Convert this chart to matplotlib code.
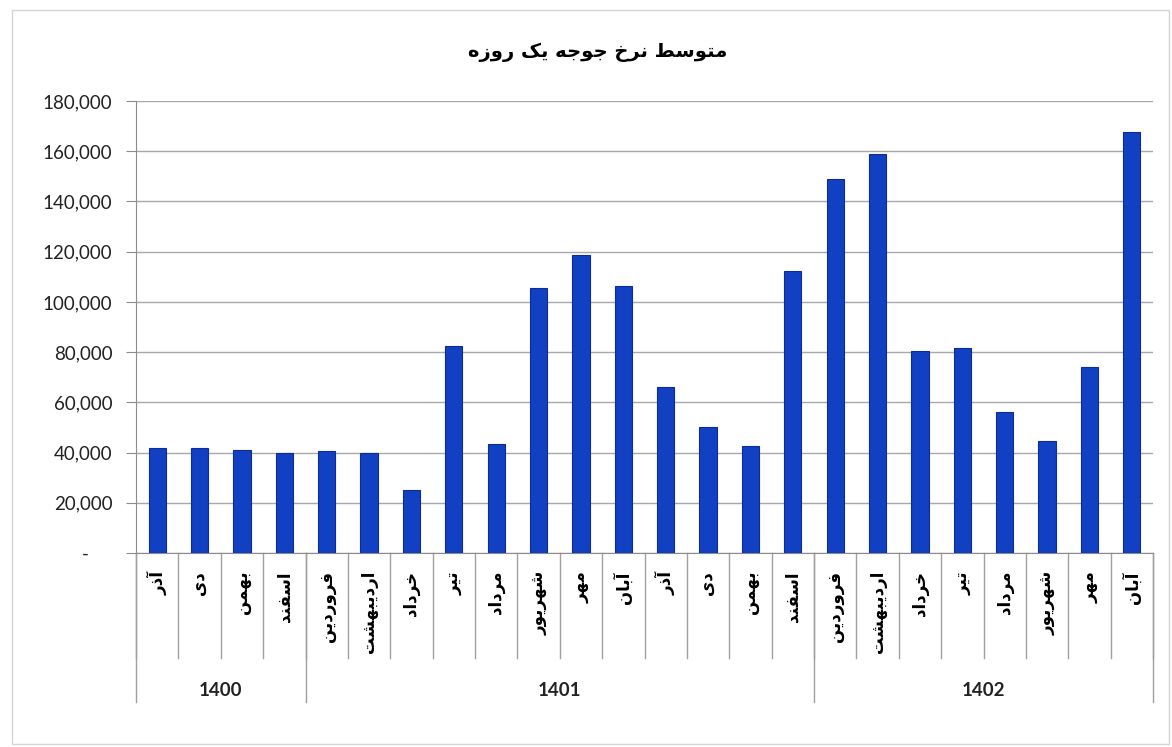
import matplotlib
matplotlib.use('Agg')
import matplotlib.pyplot as plt
from matplotlib.ticker import FuncFormatter
from matplotlib.patches import Rectangle

# data
months = ['آذر', 'دی', 'بهمن', 'اسفند',
          'فروردین', 'اردیبهشت', 'خرداد', 'تیر', 'مرداد', 'شهریور',
          'مهر', 'آبان', 'آذر', 'دی', 'بهمن', 'اسفند',
          'فروردین', 'اردیبهشت', 'خرداد', 'تیر', 'مرداد', 'شهریور',
          'مهر', 'آبان']
prices = [42000, 42000, 41000, 40000,
          40500, 40000, 25000, 82500, 43500, 105500,
          118500, 106500, 66000, 50000, 42500, 112500,
          149000, 159000, 80500, 81500, 56000, 44500,
          74000, 167500]
years = ['1400', '1401', '1402']
year_counts = [4, 12, 8]
title = 'متوسط نرخ جوجه یک روزه'

# minimal Persian shaping (matplotlib has no bidi / joining support)
FORMS = {
    'ا': ('\uFE8D', '\uFE8E', None, None),
    'آ': ('\uFE81', '\uFE82', None, None),
    'ب': ('\uFE8F', '\uFE90', '\uFE91', '\uFE92'),
    'ت': ('\uFE95', '\uFE96', '\uFE97', '\uFE98'),
    'ج': ('\uFE9D', '\uFE9E', '\uFE9F', '\uFEA0'),
    'خ': ('\uFEA5', '\uFEA6', '\uFEA7', '\uFEA8'),
    'د': ('\uFEA9', '\uFEAA', None, None),
    'ذ': ('\uFEAB', '\uFEAC', None, None),
    'ر': ('\uFEAD', '\uFEAE', None, None),
    'ز': ('\uFEAF', '\uFEB0', None, None),
    'س': ('\uFEB1', '\uFEB2', '\uFEB3', '\uFEB4'),
    'ش': ('\uFEB5', '\uFEB6', '\uFEB7', '\uFEB8'),
    'ط': ('\uFEC1', '\uFEC2', '\uFEC3', '\uFEC4'),
    'ف': ('\uFED1', '\uFED2', '\uFED3', '\uFED4'),
    'ک': ('\uFB8E', '\uFB8F', '\uFB90', '\uFB91'),
    'م': ('\uFEE1', '\uFEE2', '\uFEE3', '\uFEE4'),
    'ن': ('\uFEE5', '\uFEE6', '\uFEE7', '\uFEE8'),
    'ه': ('\uFEE9', '\uFEEA', '\uFEEB', '\uFEEC'),
    'و': ('\uFEED', '\uFEEE', None, None),
    'ی': ('\uFBFC', '\uFBFD', '\uFBFE', '\uFBFF'),
}


def shape(text):
    out = []
    for i, c in enumerate(text):
        if c not in FORMS:
            out.append(c)
            continue
        iso, fin, ini, med = FORMS[c]
        prev = text[i - 1] if i > 0 else ''
        nxt = text[i + 1] if i + 1 < len(text) else ''
        jp = prev in FORMS and FORMS[prev][2] is not None
        jn = nxt in FORMS and ini is not None
        if jp and jn:
            out.append(med)
        elif jp:
            out.append(fin)
        elif jn:
            out.append(ini)
        else:
            out.append(iso)
    return ''.join(reversed(out))


W, H = 1172, 747
fig = plt.figure(figsize=(W / 100, H / 100), dpi=100)
left, right, top, bottom = 136, 1153, 101, 553
ax = fig.add_axes([left / W, 1 - bottom / H, (right - left) / W, (bottom - top) / H])

x = list(range(len(prices)))
ax.bar(x, prices, width=0.41, color='#1240c2', edgecolor='#0c2c98', linewidth=0.8, zorder=3)

ax.set_xlim(-0.5, len(prices) - 0.5)
ax.set_ylim(0, 180000)
ax.set_yticks(range(0, 180001, 20000))
ax.yaxis.set_major_formatter(FuncFormatter(lambda v, p: '-     ' if v == 0 else f'{v:,.0f}'))
ax.tick_params(axis='y', length=7, color='#8c8c8c', labelsize=13.5, pad=10, labelcolor='#222222')
for lab in ax.get_yticklabels():
    lab.set_family('Lato')
ax.set_xticks([])
ax.grid(axis='y', color='#a8a8a8', linewidth=1, zorder=0)
for s in ['top', 'right']:
    ax.spines[s].set_visible(False)
ax.spines['left'].set_color('#8c8c8c')
ax.spines['bottom'].set_color('#8c8c8c')

# category table under the axis
month_depth = -(658 - bottom) / (bottom - top)
year_depth = -(702 - bottom) / (bottom - top)
trans = ax.get_xaxis_transform()
for i in range(len(prices) + 1):
    ax.plot([i - 0.5, i - 0.5], [0, month_depth], transform=trans, color='#a0a0a0',
            lw=1, clip_on=False)
start = 0
bounds = [0]
for c in year_counts:
    start += c
    bounds.append(start)
for b in bounds:
    ax.plot([b - 0.5, b - 0.5], [0, year_depth], transform=trans, color='#a0a0a0',
            lw=1, clip_on=False)

label_y = -(571 - bottom) / (bottom - top)
for i, m in enumerate(months):
    ax.text(i, label_y, shape(m), transform=trans, rotation=90, ha='center', va='top',
            fontsize=12, fontweight='bold', family='DejaVu Sans', color='black')

year_y = -(690 - bottom) / (bottom - top)
for j, yname in enumerate(years):
    center = (bounds[j] + bounds[j + 1] - 1) / 2
    ax.text(center, year_y, yname, transform=trans, ha='center', va='center',
            fontsize=13.5, fontweight='bold', family='Lato', color='#222222')

fig.text(598 / W, 1 - 52 / H, shape(title), ha='center', va='center',
         fontsize=14, fontweight='bold', family='DejaVu Sans')

fig.patches.append(Rectangle((12 / W, 1 - 744 / H), (1169 - 12) / W, (744 - 10) / H,
                             transform=fig.transFigure, fill=False,
                             edgecolor='#d4d4d4', lw=1))

fig.savefig('out.png', dpi=100)
